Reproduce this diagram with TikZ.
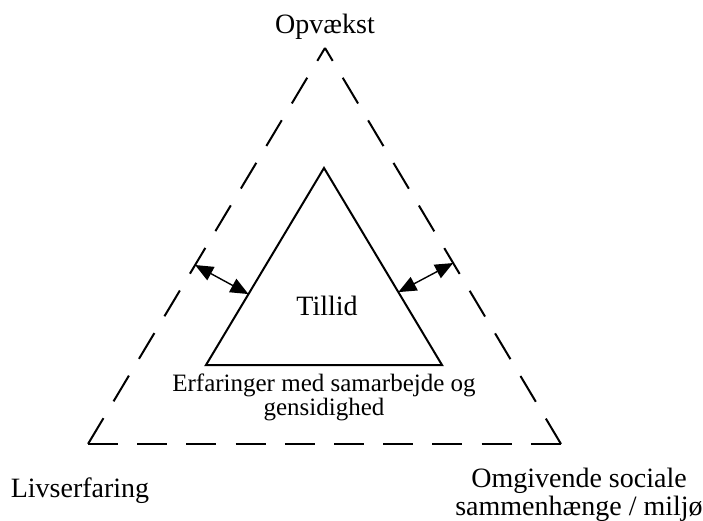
\documentclass[tikz,border=0pt]{standalone}
\usepackage{fontspec}
\setmainfont{Liberation Serif}
\usetikzlibrary{arrows.meta,calc}
\begin{document}
\begin{tikzpicture}[x=1pt,y=-1pt,
  outerside/.style={line width=2pt,line cap=butt},
  innertri/.style={line width=2pt,line join=miter},
  linkarrow/.style={line width=1.4pt,{Triangle[length=18pt,width=15pt]}-{Triangle[length=18pt,width=15pt]}},
  biglabel/.style={font=\fontsize{28}{30}\selectfont,inner sep=0pt,anchor=base},
  smalllabel/.style={font=\fontsize{25}{24.5}\selectfont,inner sep=0pt,anchor=base}]
\useasboundingbox (0,0) rectangle (703,520);
% outer (dashed) triangle: half dashes at the apex, full dashes at the base corners
\coordinate (oT) at (325,48);
\coordinate (oL) at (88,444);
\coordinate (oR) at (561,444);
\draw[outerside,dash pattern=on 30pt off 19.6pt,dash phase=15pt] (oT) -- (oL);
\draw[outerside,dash pattern=on 30pt off 19.6pt,dash phase=15pt] (oT) -- (oR);
\draw[outerside,dash pattern=on 30pt off 19.2pt] (oL) -- (oR);
% inner (solid) triangle
\coordinate (iT) at (324,168);
\coordinate (iL) at (206,365);
\coordinate (iR) at (442,365);
\draw[innertri] (iT) -- (iL) -- (iR) -- cycle;
% double arrows between the triangles
\coordinate (aLo) at ($(oT)!0.548!(oL)$);
\coordinate (aLi) at ($(iT)!0.64!(iL)$);
\coordinate (aRo) at ($(oT)!0.543!(oR)$);
\coordinate (aRi) at ($(iT)!0.63!(iR)$);
\draw[linkarrow] (aLo) -- (aLi);
\draw[linkarrow] (aRi) -- (aRo);
% labels
\node[biglabel] (opv) at (325,33) {Opvækst};
\node[biglabel] (liv) at (80,497) {Livserfaring};
\node[biglabel] (oms1) at (579,487) {Omgivende sociale};
\node[biglabel] (oms2) at (579,515) {sammenhænge / miljø};
\node[biglabel] (til) at (327,315) {Tillid};
\node[smalllabel] (erf1) at (324,391) {Erfaringer med samarbejde og};
\node[smalllabel] (erf2) at (324,415) {gensidighed};
\end{tikzpicture}
\end{document}
